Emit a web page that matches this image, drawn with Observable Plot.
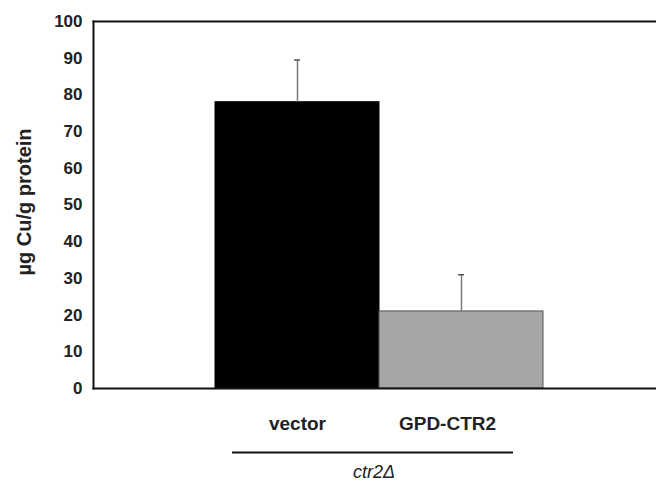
<!DOCTYPE html>
<html>
<head>
<meta charset="utf-8">
<script src="https://cdn.jsdelivr.net/npm/d3@7"></script>
<script src="https://cdn.jsdelivr.net/npm/@observablehq/plot@0.6"></script>
<style>
  body { margin: 0; background: #fff; }
  #chart svg { display: block; font-family: "Liberation Sans", Arial, sans-serif; }
</style>
</head>
<body>
<div id="chart"></div>
<script>
const categories = ["vector", "GPD-CTR2"];
const means = [78, 21];
const errors = [11.5, 10];
const barColors = ["#000000", "#a6a6a6"];
const yTicks = [0, 10, 20, 30, 40, 50, 60, 70, 80, 90, 100];
const yLabel = "µg Cu/g protein";
const groupLabel = "ctr2Δ";

const data = categories.map((c, i) => ({cat: c, mean: means[i], top: means[i] + errors[i], color: barColors[i]}));

const chart = Plot.plot({
  width: 656,
  height: 487,
  marginLeft: 93,
  marginRight: 0,
  marginTop: 21,
  marginBottom: 99,
  style: {fontFamily: "'Liberation Sans', Arial, sans-serif", background: "#fff"},
  x: {domain: categories, paddingInner: 0, paddingOuter: 0.716, align: 0.52, axis: null},
  y: {domain: [0, 100], ticks: yTicks, label: null},
  marks: [
    Plot.barY(data, {x: "cat", y: "mean", fill: "color", stroke: d => d.color === "#000000" ? "#000" : "#555", strokeWidth: 1}),
    Plot.ruleX(data, {x: "cat", y1: "mean", y2: "top", stroke: "#7a7a7a", strokeWidth: 1.5}),
    Plot.tickY(data, {x: "cat", y: "top", stroke: "#555", strokeWidth: 1.5, insetLeft: 79, insetRight: 79}),
    Plot.frame({anchor: "left", stroke: "#111", strokeWidth: 2}),
    Plot.frame({anchor: "top", stroke: "#111", strokeWidth: 2}),
    Plot.frame({anchor: "bottom", stroke: "#111", strokeWidth: 2}),
    Plot.axisY({ticks: yTicks, tickSize: 0, tickPadding: 11, fontSize: 17, fontWeight: "bold", label: null, color: "#222"}),
    Plot.text(data.slice(0, 1), {x: "cat", text: "cat", frameAnchor: "bottom", dy: 41, fontSize: 19, fontWeight: "bold", fill: "#222"}),
    Plot.text(data.slice(1), {x: "cat", text: "cat", frameAnchor: "bottom", dy: 41, dx: -14, fontSize: 19, fontWeight: "bold", fill: "#222"}),
    Plot.ruleY([0], {dy: 64, insetLeft: 139, insetRight: 143, stroke: "#111", strokeWidth: 2}),
    Plot.text([groupLabel], {frameAnchor: "bottom", dy: 89, dx: -1, fontSize: 18, fontStyle: "italic", fill: "#222"}),
    Plot.text([yLabel], {frameAnchor: "left", textAnchor: "middle", rotate: -90, dy: -3, dx: -69, fontSize: 20, fontWeight: "bold", letterSpacing: "2px", fill: "#222"})
  ]
});
document.getElementById("chart").appendChild(chart);
</script>
</body>
</html>
